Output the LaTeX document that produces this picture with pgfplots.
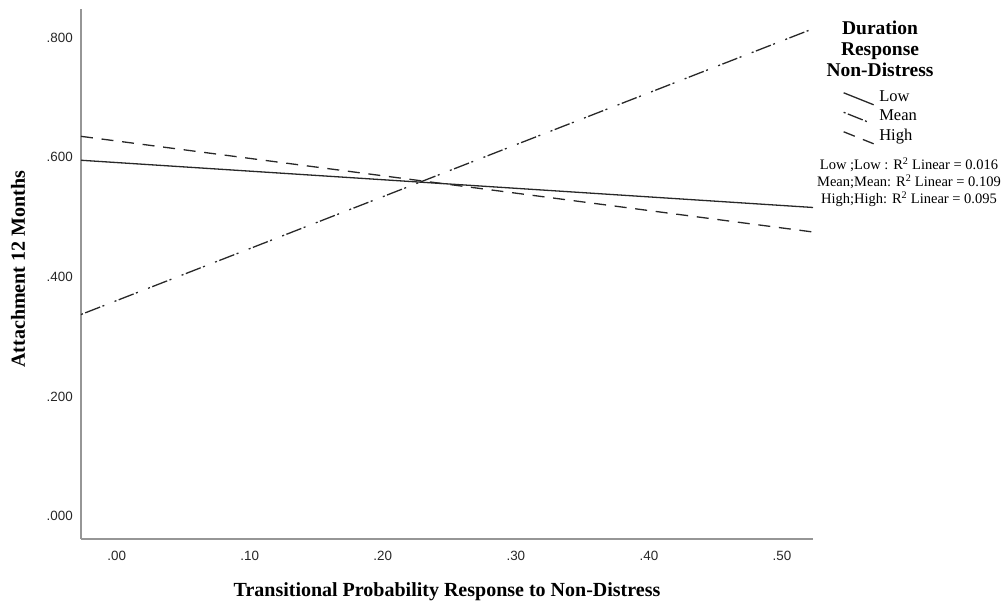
\documentclass[border=0pt]{standalone}
\usepackage{fontspec}
\setmainfont{Liberation Serif}
\newfontfamily\sansf{Liberation Sans}
\usepackage{pgfplots}
\pgfplotsset{compat=1.18}
\definecolor{axisgray}{RGB}{150,150,150}
\definecolor{linecol}{RGB}{40,40,40}
\begin{document}
\begin{tikzpicture}[x=1pt,y=1pt]
\path[use as bounding box] (0,0) rectangle (1005,605);
\begin{axis}[
  at={(81pt,66pt)}, anchor=south west,
  scale only axis, width=732pt, height=530pt,
  xmin=-0.0268, xmax=0.5233, ymin=-0.0385, ymax=0.848,
  axis x line*=bottom, axis y line*=left,
  axis line style={draw=axisgray, line width=1.3pt, -},
  major tick length=0pt,
  xtick={0,0.1,0.2,0.3,0.4,0.5},
  xticklabels={.00,.10,.20,.30,.40,.50},
  ytick={0,0.2,0.4,0.6,0.8},
  yticklabels={.000,.200,.400,.600,.800},
  tick label style={font=\sansf\fontsize{13.4}{16}\selectfont, text=black!85},
  yticklabel style={anchor=east, inner sep=0pt, xshift=-8pt},
  xticklabel style={anchor=north, inner sep=0pt, yshift=-12pt},
  xlabel={\textbf{Transitional Probability Response to Non-Distress}},
  ylabel={\textbf{Attachment 12 Months}},
  label style={font=\fontsize{20}{24}\selectfont},
  xlabel style={at={(axis description cs:0.5,-0.1)}, anchor=center},
  ylabel style={at={(axis description cs:-0.0861,0.509)}, anchor=center},
  clip=false,
  legend style={at={(axis description cs:1.041,0.849)}, anchor=north west,
    draw=none, fill=none, inner sep=0pt, outer sep=0pt, row sep=0pt,
    font=\fontsize{16.5}{19.5}\selectfont,
    nodes={inner sep=0pt, text height=12pt, text depth=7.5pt},
    /tikz/every odd column/.style={column sep=5pt}},
  legend cell align=left,
  legend image code/.code={\draw[#1] (0pt,6pt) -- (30pt,-6pt);},
]
\addplot[linecol, line width=1.3pt] coordinates {(-0.0268,0.595) (0.5233,0.516)};
\addlegendentry{Low}
\addplot[linecol, line width=1.3pt, dash pattern=on 2pt off 2.5pt on 16pt off 2.5pt on 2pt off 11pt] coordinates {(-0.0268,0.337) (0.5233,0.815)};
\addlegendentry{Mean}
\addplot[linecol, line width=1.3pt, dash pattern=on 12pt off 8.7pt] coordinates {(-0.0268,0.635) (0.5233,0.475)};
\addlegendentry{High}
\end{axis}
\node[align=center, font=\bfseries\fontsize{19.5}{21}\selectfont] at (880,556) {Duration\\Response\\Non-Distress};
\node[align=center, font=\fontsize{14.5}{17}\selectfont] at (909,423) {Low ;Low : R\textsuperscript{2} Linear = 0.016\\Mean;Mean: R\textsuperscript{2} Linear = 0.109\\High;High: R\textsuperscript{2} Linear = 0.095};
\end{tikzpicture}
\end{document}
